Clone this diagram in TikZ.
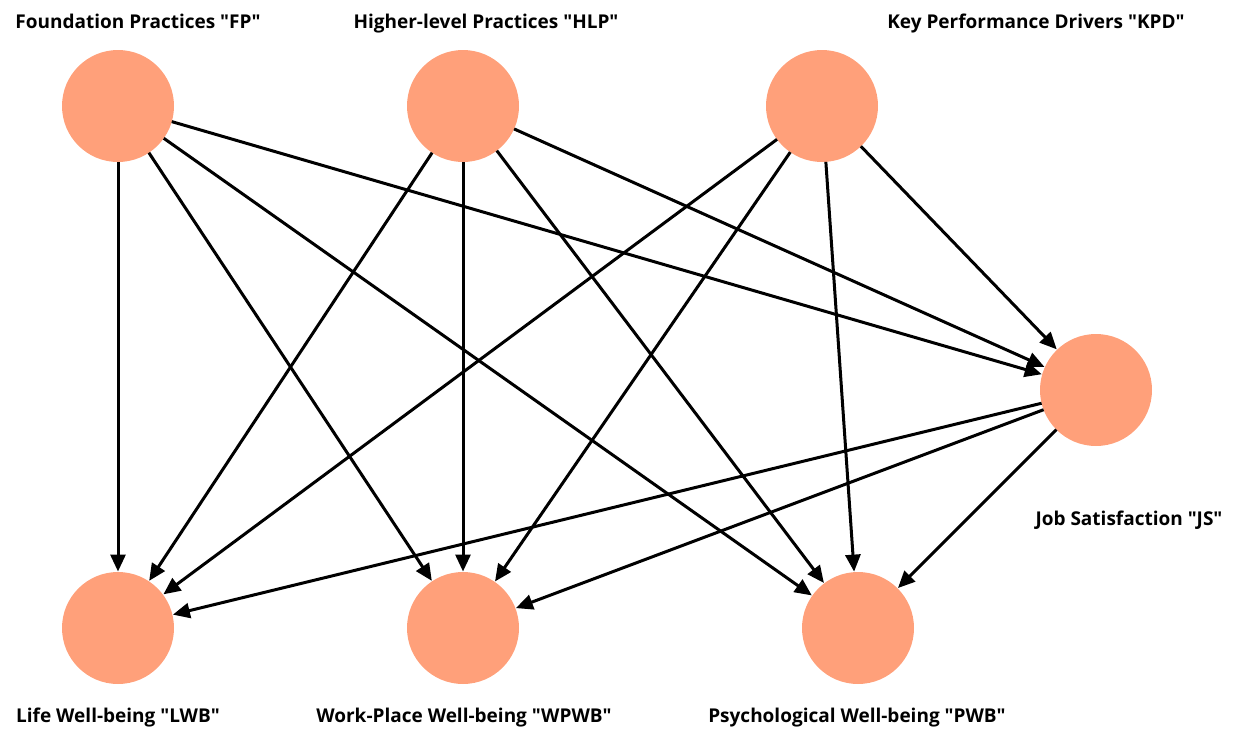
\documentclass[tikz,border=0pt]{standalone}
\usepackage{fontspec}
\setmainfont{Open Sans}[Ligatures=TeXOff]
\usetikzlibrary{arrows.meta}
\begin{document}
\begin{tikzpicture}[x=1pt,y=-1pt,
  var/.style={circle,fill=salmon,minimum size=112pt,inner sep=0pt,outer sep=0pt},
  lab/.style={anchor=base,font=\bfseries\fontsize{19}{22}\selectfont,inner sep=0pt},
  link/.style={draw=black,line width=3pt,-{Triangle[length=17pt,width=15pt]},shorten >=0.5pt}]
\definecolor{salmon}{RGB}{255,160,122}
\useasboundingbox (0,0) rectangle (1243,731);
\node[var] (FP) at (118,106) {};
\node[var] (HLP) at (463,106) {};
\node[var] (KPD) at (822,106) {};
\node[var] (JS) at (1096,390) {};
\node[var] (LWB) at (118,628) {};
\node[var] (WPWB) at (463,628) {};
\node[var] (PWB) at (858,628) {};
\node[lab] (tFP) at (138,28) {Foundation Practices "FP"};
\node[lab] (tHLP) at (486,28) {Higher-level Practices "HLP"};
\node[lab] (tKPD) at (1036,28) {Key Performance Drivers "KPD"};
\node[lab] (tJS) at (1129,525) {Job Satisfaction "JS"};
\node[lab] (tLWB) at (118,722) {Life Well-being "LWB"};
\node[lab] (tWPWB) at (464,722) {Work-Place Well-being "WPWB"};
\node[lab] (tPWB) at (857,722) {Psychological Well-being "PWB"};
\foreach \s in {FP,HLP,KPD}{
  \foreach \t in {LWB,WPWB,PWB,JS}{
    \draw[link] (\s) -- (\t);
  }
}
\foreach \t in {LWB,WPWB,PWB}{
  \draw[link] (JS) -- (\t);
}
\end{tikzpicture}
\end{document}
